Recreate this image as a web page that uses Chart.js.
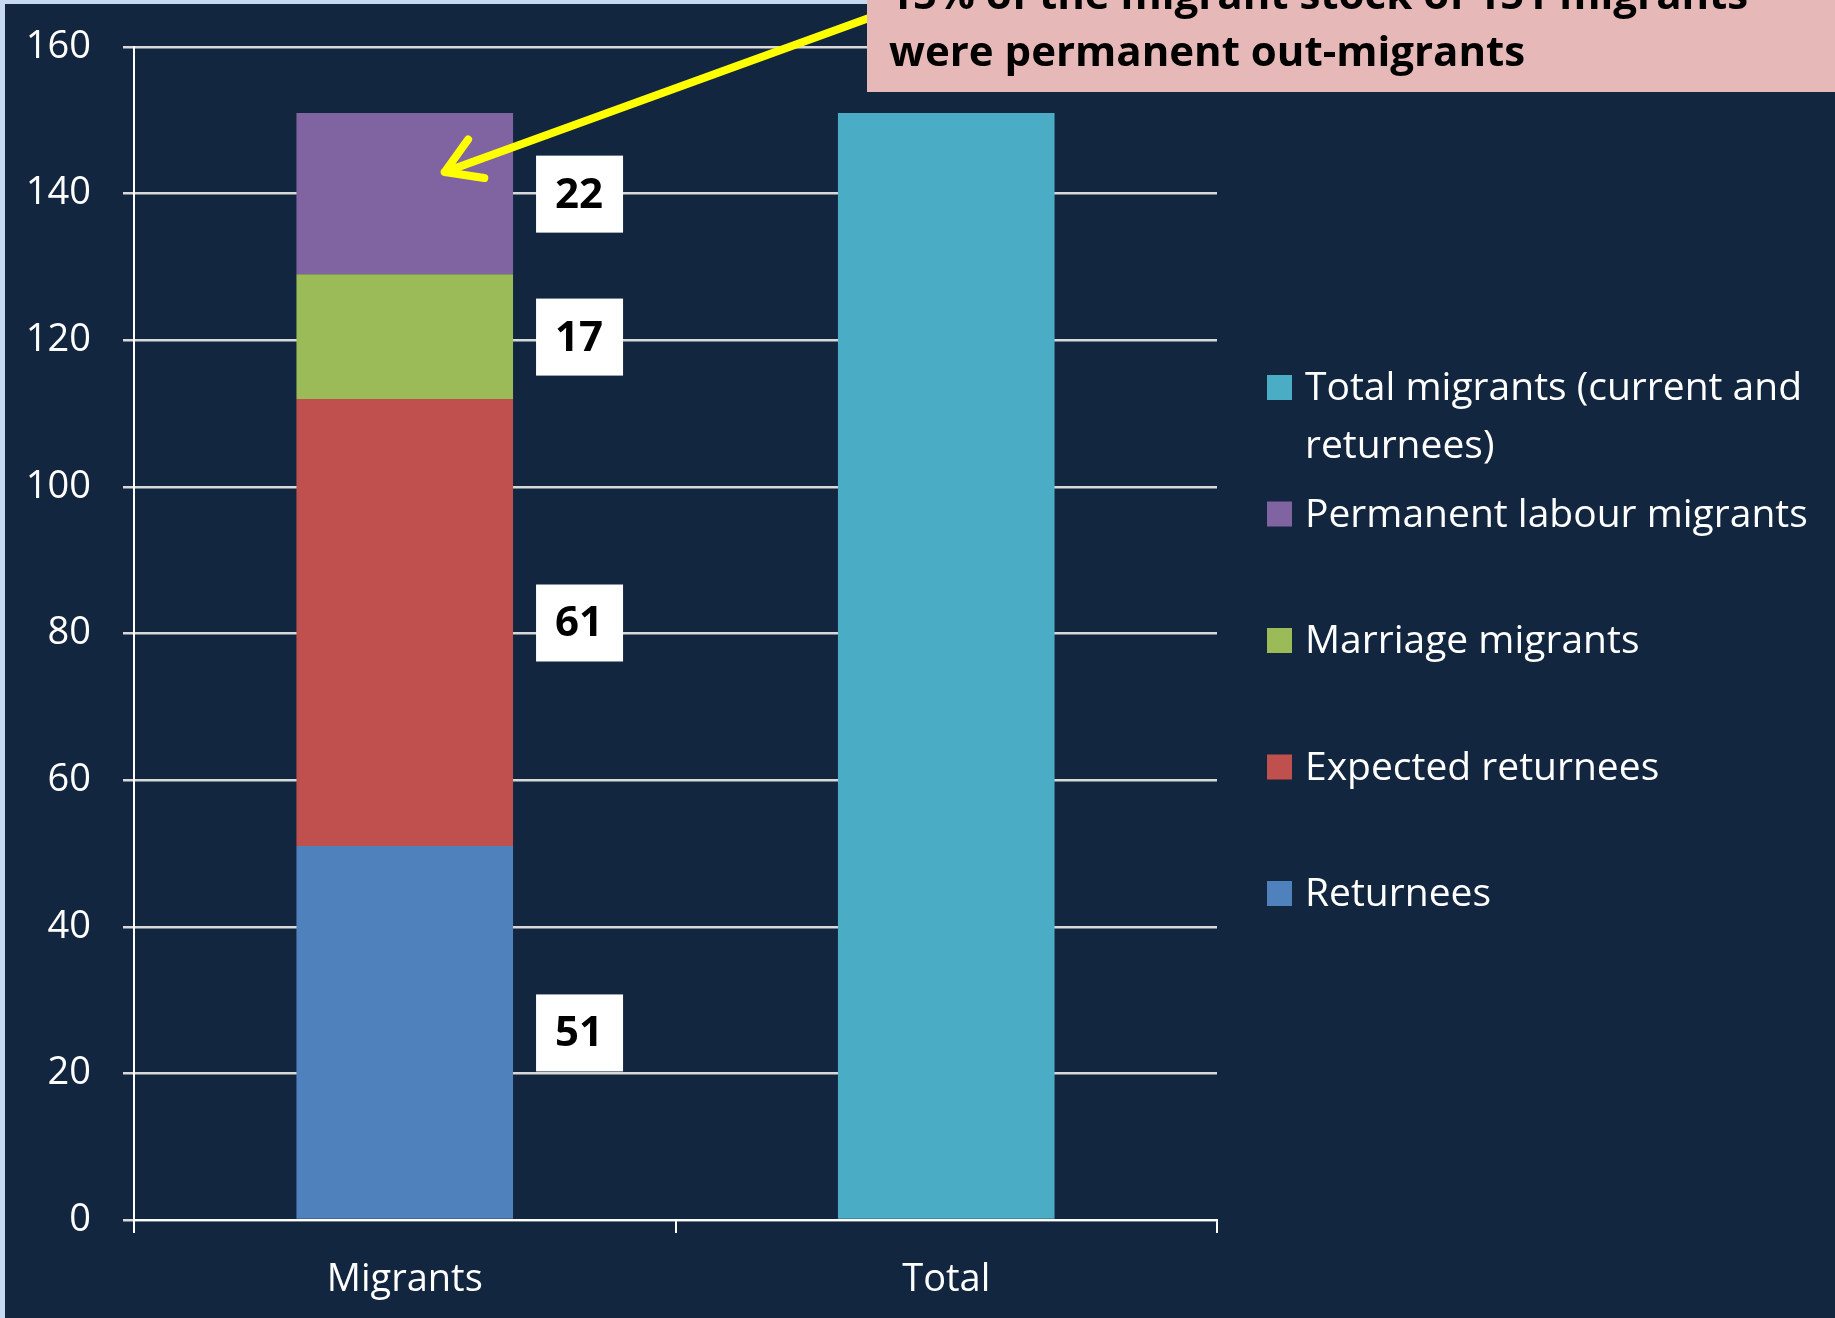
<!DOCTYPE html>
<html>
<head>
<meta charset="utf-8">
<script src="https://cdn.jsdelivr.net/npm/chart.js@4/dist/chart.umd.min.js"></script>
<style>
  html, body { margin: 0; padding: 0; background: #12263f; }
  canvas { display: block; }
</style>
</head>
<body>
<canvas id="chart" width="1835" height="1318"></canvas>
<script>
const categories = ['Migrants', 'Total'];
const returnees = [51, null];
const expectedReturnees = [61, null];
const marriageMigrants = [17, null];
const permanentLabour = [22, null];
const totalMigrants = [null, 151];
const yTicks = [0, 20, 40, 60, 80, 100, 120, 140, 160];

const FONT = "'Open Sans', 'Noto Sans', sans-serif";
const BG = '#12263f';
const GRID = '#d9d9d9';

// background, with the light slide edge on the left and top
const backdrop = {
  id: 'backdrop',
  beforeDraw(chart) {
    const { ctx, width, height } = chart;
    ctx.save();
    ctx.fillStyle = BG;
    ctx.fillRect(0, 0, width, height);
    ctx.fillStyle = '#c6d9f1';
    ctx.fillRect(0, 0, 5, height);
    ctx.fillRect(0, 0, width, 4);
    ctx.restore();
  }
};

// white value boxes to the right of the stacked segments
const valueBoxes = {
  id: 'valueBoxes',
  afterDatasetsDraw(chart) {
    const { ctx } = chart;
    ctx.save();
    chart.data.datasets.forEach((ds, i) => {
      if (ds.stackLabel !== true) return;
      const el = chart.getDatasetMeta(i).data[0];
      const v = ds.data[0];
      if (!el || v == null) return;
      const cx = el.x + el.width / 2 + 23 + 43;
      const cy = (el.y + el.base) / 2;
      ctx.fillStyle = '#ffffff';
      ctx.fillRect(cx - 43, cy - 38, 87, 77);
      ctx.fillStyle = '#000000';
      ctx.font = `bold 42px ${FONT}`;
      ctx.textAlign = 'center';
      ctx.textBaseline = 'middle';
      ctx.fillText(String(v), cx, cy + 2);
    });
    ctx.restore();
  }
};

// legend drawn top to bottom in reverse dataset order
const sideLegend = {
  id: 'sideLegend',
  afterDraw(chart) {
    const { ctx } = chart;
    const x = 1267, textX = 1305, maxW = 525;
    let base = 400;
    ctx.save();
    ctx.font = `39px ${FONT}`;
    ctx.textAlign = 'left';
    ctx.textBaseline = 'alphabetic';
    const items = chart.data.datasets.slice().reverse();
    items.forEach(ds => {
      ctx.fillStyle = ds.backgroundColor;
      ctx.fillRect(x, base - 25, 25, 25);
      // simple word wrap
      const words = ds.label.split(' ');
      const lines = [];
      let line = '';
      words.forEach(w => {
        const test = line ? line + ' ' + w : w;
        if (ctx.measureText(test).width > maxW && line) {
          lines.push(line);
          line = w;
        } else {
          line = test;
        }
      });
      lines.push(line);
      ctx.fillStyle = '#ffffff';
      lines.forEach((l, k) => ctx.fillText(l, textX, base + k * 58));
      base += 126.5;
    });
    ctx.restore();
  }
};

// callout box with the arrow pointing into the top segment
const callout = {
  id: 'callout',
  afterDraw(chart) {
    const { ctx } = chart;
    const el = chart.getDatasetMeta(3).data[0];
    const tipX = el.x + 40, tipY = el.y + 59;
    const fromX = 880, fromY = 14;
    ctx.save();
    ctx.strokeStyle = '#ffff00';
    ctx.lineWidth = 8;
    ctx.lineCap = 'round';
    ctx.beginPath();
    ctx.moveTo(fromX, fromY);
    ctx.lineTo(tipX, tipY);
    const ang = Math.atan2(fromY - tipY, fromX - tipX);
    [-0.6, 0.5].forEach(d => {
      ctx.moveTo(tipX, tipY);
      ctx.lineTo(tipX + 40 * Math.cos(ang + d), tipY + 40 * Math.sin(ang + d));
    });
    ctx.stroke();

    ctx.fillStyle = '#e6b8b7';
    ctx.fillRect(867, 0, chart.width - 867, 92);
    ctx.fillStyle = '#000000';
    ctx.font = `bold 42px ${FONT}`;
    ctx.textAlign = 'left';
    ctx.textBaseline = 'alphabetic';
    ctx.fillText('15% of the migrant stock of 151 migrants', 889, 9);
    ctx.fillText('were permanent out-migrants', 889, 66);
    ctx.restore();
  }
};

new Chart(document.getElementById('chart'), {
  type: 'bar',
  data: {
    labels: categories,
    datasets: [
      { label: 'Returnees', data: returnees, backgroundColor: '#4f81bd', stackLabel: true },
      { label: 'Expected returnees', data: expectedReturnees, backgroundColor: '#c0504d', stackLabel: true },
      { label: 'Marriage migrants', data: marriageMigrants, backgroundColor: '#9bbb59', stackLabel: true },
      { label: 'Permanent labour migrants', data: permanentLabour, backgroundColor: '#8064a2', stackLabel: true },
      { label: 'Total migrants (current and returnees)', data: totalMigrants, backgroundColor: '#4bacc6' }
    ]
  },
  options: {
    responsive: false,
    animation: false,
    devicePixelRatio: 1,
    layout: { padding: { left: 0, top: 47, right: 618, bottom: 0 } },
    datasets: {
      bar: { barPercentage: 0.4, categoryPercentage: 1, borderWidth: 0 }
    },
    plugins: {
      legend: { display: false },
      tooltip: { enabled: false },
      title: { display: false }
    },
    scales: {
      x: {
        stacked: true,
        afterFit: s => {
          s.height = 98;
          s.paddingLeft = 0;
          s.paddingRight = 0;
        },
        grid: {
          offset: true,
          drawOnChartArea: false,
          tickLength: 13,
          color: '#ffffff',
          lineWidth: 2
        },
        border: { display: true, color: '#ffffff', width: 2 },
        ticks: {
          color: '#ffffff',
          padding: 24,
          font: { family: FONT, size: 38 }
        }
      },
      y: {
        stacked: true,
        min: 0,
        max: 160,
        afterFit: s => {
          s.width = 134;
          s.paddingTop = 0;
          s.paddingBottom = 0;
        },
        afterBuildTicks: s => { s.ticks = yTicks.map(v => ({ value: v })); },
        grid: {
          color: GRID,
          lineWidth: 2.5,
          tickLength: 11
        },
        border: { display: true, color: '#ffffff', width: 2 },
        ticks: {
          color: '#ffffff',
          padding: 32,
          font: { family: FONT, size: 38 }
        }
      }
    }
  },
  plugins: [backdrop, valueBoxes, sideLegend, callout]
});
</script>
</body>
</html>
